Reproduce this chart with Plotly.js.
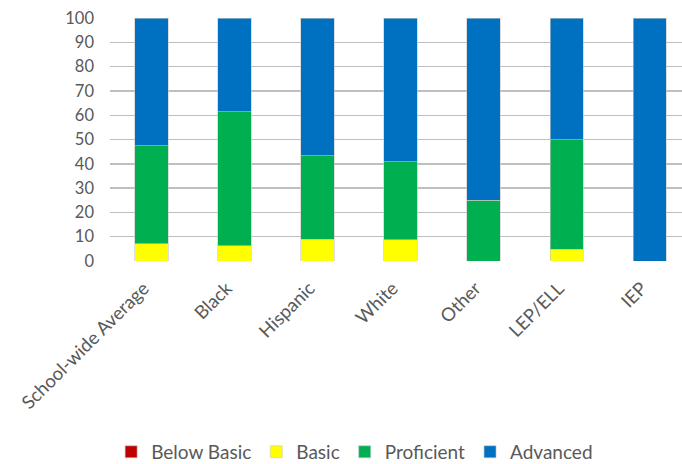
<!DOCTYPE html>
<html><head><meta charset="utf-8">
<script src="https://cdn.plot.ly/plotly-3.0.1.min.js"></script>
<style>html,body{margin:0;padding:0;background:#fff}</style>
</head><body><div id="chart" style="width:682px;height:464px"></div>
<script>
const categories = ["School-wide Average","Black","Hispanic","White","Other","LEP/ELL","IEP"];
const belowBasic = [0,0,0,0,0,0,0];
const basic      = [7.1,6.2,8.9,8.8,0,4.8,0];
const proficient = [40.4,55.2,34.5,32.0,25.1,45.1,0];
const advanced   = [52.5,38.6,56.6,59.2,74.9,50.1,100];
const yTicks = [0,10,20,30,40,50,60,70,80,90,100];

const mk = (name, y, color) => ({
  type:'bar', name, x:categories, y, width:0.4,
  marker:{color, line:{color:'#c8c8c8', width:0.6}},
  hoverinfo:'skip'
});
const data = [
  mk('Below Basic', belowBasic, '#C00000'),
  mk('Basic', basic, '#FFFF00'),
  mk('Proficient', proficient, '#00B050'),
  mk('Advanced', advanced, '#0070C0')
];
const layout = {
  width:682, height:464,
  margin:{l:110, r:0, t:18, b:203},
  barmode:'stack',
  paper_bgcolor:'#fff', plot_bgcolor:'#fff',
  font:{family:'Lato, sans-serif', color:'#595959', size:16},
  xaxis:{range:[-0.5,6.39], tickangle:-45, showgrid:false, zeroline:false,
         showline:false, ticks:'', ticklabelstandoff:12, ticklabelshift:-8,
         tickfont:{size:18.5, color:'#595959'}},
  yaxis:{range:[0,100], tickvals:yTicks, showgrid:true, gridcolor:'#bfbfbf', gridwidth:1.4,
         zeroline:false, showline:false, ticks:'', ticklabelstandoff:15,
         tickfont:{size:16.5, color:'#595959'}},
  showlegend:true,
  legend:{orientation:'h', xref:'container', yref:'container', x:0.52, xanchor:'center',
          y:0.026, yanchor:'middle', font:{size:19, color:'#595959'},
          itemwidth:30, tracegroupgap:0, traceorder:'normal'}
};
Plotly.newPlot('chart', data, layout, {displayModeBar:false, staticPlot:true});
</script></body></html>
